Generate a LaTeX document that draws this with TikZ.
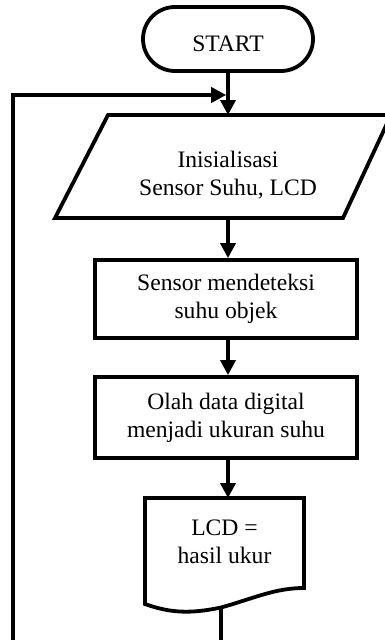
\documentclass[tikz,border=0pt]{standalone}
\usepackage{fontspec}
\setmainfont{Liberation Serif}
\usetikzlibrary{arrows.meta}
\begin{document}
\begin{tikzpicture}[x=1pt,y=-1pt,
  box/.style={draw, line width=3.8pt, line join=miter, align=center, inner sep=0pt},
  txt/.style={align=center, inner sep=0pt},
  outline/.style={draw, line width=3.8pt, line join=miter},
  arr/.style={-{Triangle[length=15pt,width=15pt]}, line width=3.6pt, line join=miter},
  font=\fontsize{23.6}{28}\selectfont]

\useasboundingbox (0,0) rectangle (385,640);
\clip (0,0) rectangle (385,640);

% terminal
\node[box, rounded corners=32pt, minimum width=170pt, minimum height=64pt,
      text height=24pt, text depth=0pt] (start) at (228,39) {START};

% input / initialisation (parallelogram)
\node[minimum width=280pt, minimum height=103pt, inner sep=0pt, outer sep=0pt] (init) at (228,166.5) {};
\draw[outline] (108,115) -- (391,115) -- (343,218) -- (55,218) -- cycle;
\node[txt] (initlbl) at (228,175) {Inisialisasi\\Sensor Suhu, LCD};

% processes
\node[box, minimum width=262pt, minimum height=78pt] (sense) at (226,299) {Sensor mendeteksi\\suhu objek};
\node[box, minimum width=262pt, minimum height=81pt] (proc) at (226,417.5) {Olah data digital\\menjadi ukuran suhu};

% display (document shape)
\node[minimum width=159pt, minimum height=106pt, inner sep=0pt, outer sep=0pt] (lcd) at (224.5,551) {};
\draw[outline] (145,498) -- (304,498) -- (304,588)
  .. controls (275,588) and (255,598) .. (221,607.5)
  .. controls (190,614) and (170,613) .. (145,604) -- cycle;
\node[txt] (lcdlbl) at (224.5,542) {LCD =\\hasil ukur};
\coordinate (lcdout) at (221,608);

% flow
\draw[arr] (start.south) -- (init.north);
\draw[arr] (init.south) -- (init.south |- sense.north);
\draw[arr] (sense.south -| init.south) -- (init.south |- proc.north);
\draw[arr] (proc.south -| init.south) -- (init.south |- lcd.north);

% loop back to the top
\coordinate (corner) at (13,95);
\coordinate (loopin) at (226.2,95);
\draw[arr] (lcdout) -- (221,660) -- (13,660) -- (corner) -- (loopin);
\end{tikzpicture}
\end{document}
